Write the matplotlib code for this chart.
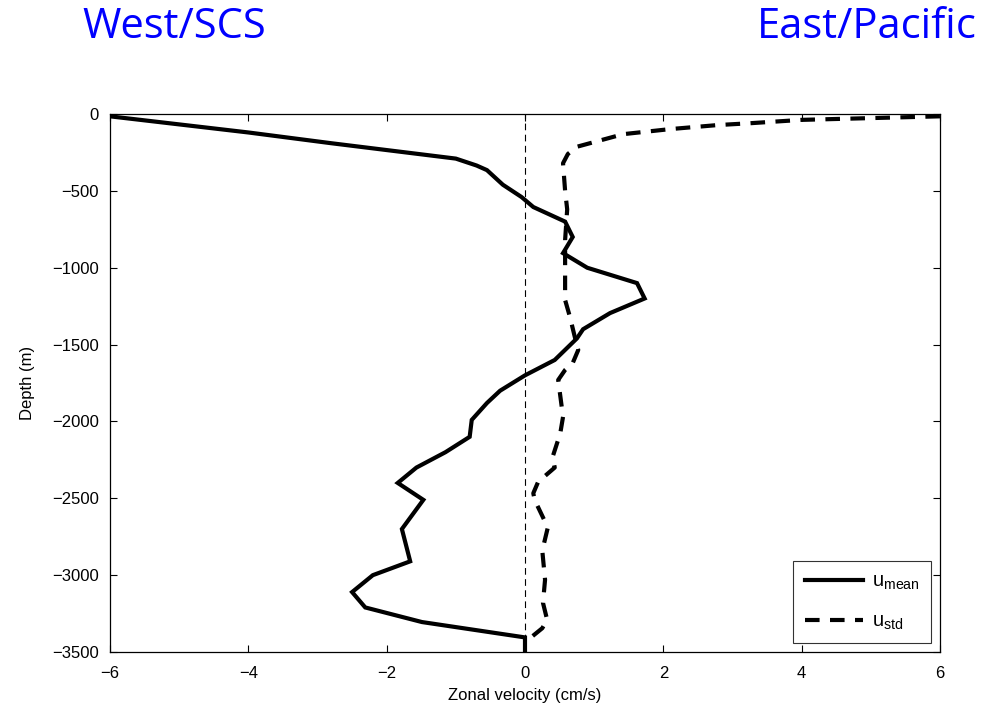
import matplotlib
matplotlib.use("Agg")
import matplotlib.pyplot as plt

# Mean zonal velocity profile (cm/s) against depth (m)
depth_mean = [-15, -120, -190, -290, -335, -365, -460, -540, -605, -700, -800, -905,
              -1000, -1100, -1200, -1295, -1400, -1460, -1600, -1700, -1800,
              -1880, -1990, -2100, -2200, -2300, -2400, -2510, -2700, -2910,
              -3000, -3110, -3210, -3305, -3405, -3500]
u_mean = [-6.0, -4.0, -2.8, -1.0, -0.7, -0.55, -0.32, -0.05, 0.12, 0.58, 0.69, 0.55,
          0.9, 1.62, 1.73, 1.23, 0.84, 0.75, 0.43, 0.0, -0.36,
          -0.55, -0.77, -0.80, -1.15, -1.57, -1.84, -1.47, -1.78, -1.66,
          -2.2, -2.5, -2.31, -1.49, 0.0, 0.0]

# Standard deviation of zonal velocity (cm/s) against depth (m)
depth_std = [-15, -38, -60, -72, -98, -131, -213, -260, -320, -500, -620, -820,
             -1035, -1210, -1320, -1450, -1535, -1620, -1665, -1730, -1970,
             -2077, -2230, -2300, -2393, -2467, -2511, -2690, -2840, -3030,
             -3180, -3290, -3345, -3400]
u_std = [6.0, 4.0, 3.25, 2.78, 2.10, 1.42, 0.75, 0.62, 0.55, 0.58, 0.61, 0.58,
         0.58, 0.58, 0.65, 0.72, 0.77, 0.69, 0.58, 0.48, 0.55,
         0.51, 0.40, 0.43, 0.19, 0.12, 0.14, 0.33, 0.25, 0.29,
         0.26, 0.32, 0.25, 0.10]

x_ticks = [-6, -4, -2, 0, 2, 4, 6]
y_ticks = [0, -500, -1000, -1500, -2000, -2500, -3000, -3500]

plt.rcParams['font.family'] = ['Liberation Sans', 'DejaVu Sans']

fig = plt.figure(figsize=(9.86, 7.14), dpi=100)
ax = fig.add_axes([0.1116, 0.0868, 0.8417, 0.7535])

ax.axvline(0, color='black', lw=0.8, ls=(0, (6, 4)), zorder=1)
ax.plot(u_mean, depth_mean, color='black', lw=3.0, solid_joinstyle='miter',
        label=r'u$_{\mathregular{mean}}$', zorder=3)
ax.plot(u_std, depth_std, color='black', lw=3.0, ls=(0, (3.5, 2.5)),
        label=r'u$_{\mathregular{std}}$', zorder=3)

ax.set_xlim(-6, 6)
ax.set_ylim(-3500, 0)
ax.set_xticks(x_ticks)
ax.set_xticklabels([str(t).replace('-', '\u2212') for t in x_ticks])
ax.set_yticks(y_ticks)
ax.set_yticklabels([str(t).replace('-', '\u2212') if t != 0 else '0' for t in y_ticks])
ax.tick_params(direction='in', top=True, right=True, length=5, width=0.8,
               labelsize=12)
ax.tick_params(axis='x', pad=10)
ax.tick_params(axis='y', pad=8)
for s in ax.spines.values():
    s.set_linewidth(0.9)

ax.set_xlabel('Zonal velocity (cm/s)', fontsize=12, labelpad=5)
ax.set_ylabel('Depth (m)', fontsize=12, labelpad=12)

leg = ax.legend(loc='lower right', fontsize=14.5, frameon=True, fancybox=False,
                edgecolor='black', handlelength=2.9, borderpad=0.55,
                labelspacing=0.95, handletextpad=0.45, borderaxespad=0.45)
leg.get_frame().set_linewidth(0.8)

fig.text(82 / 986, 1 - 38 / 714, 'West/SCS', color='#0000ff', fontsize=30,
         family='Open Sans', ha='left', va='baseline')
fig.text(977 / 986, 1 - 38 / 714, 'East/Pacific', color='#0000ff', fontsize=30,
         family='Open Sans', ha='right', va='baseline')

fig.savefig('out.png', dpi=100)
